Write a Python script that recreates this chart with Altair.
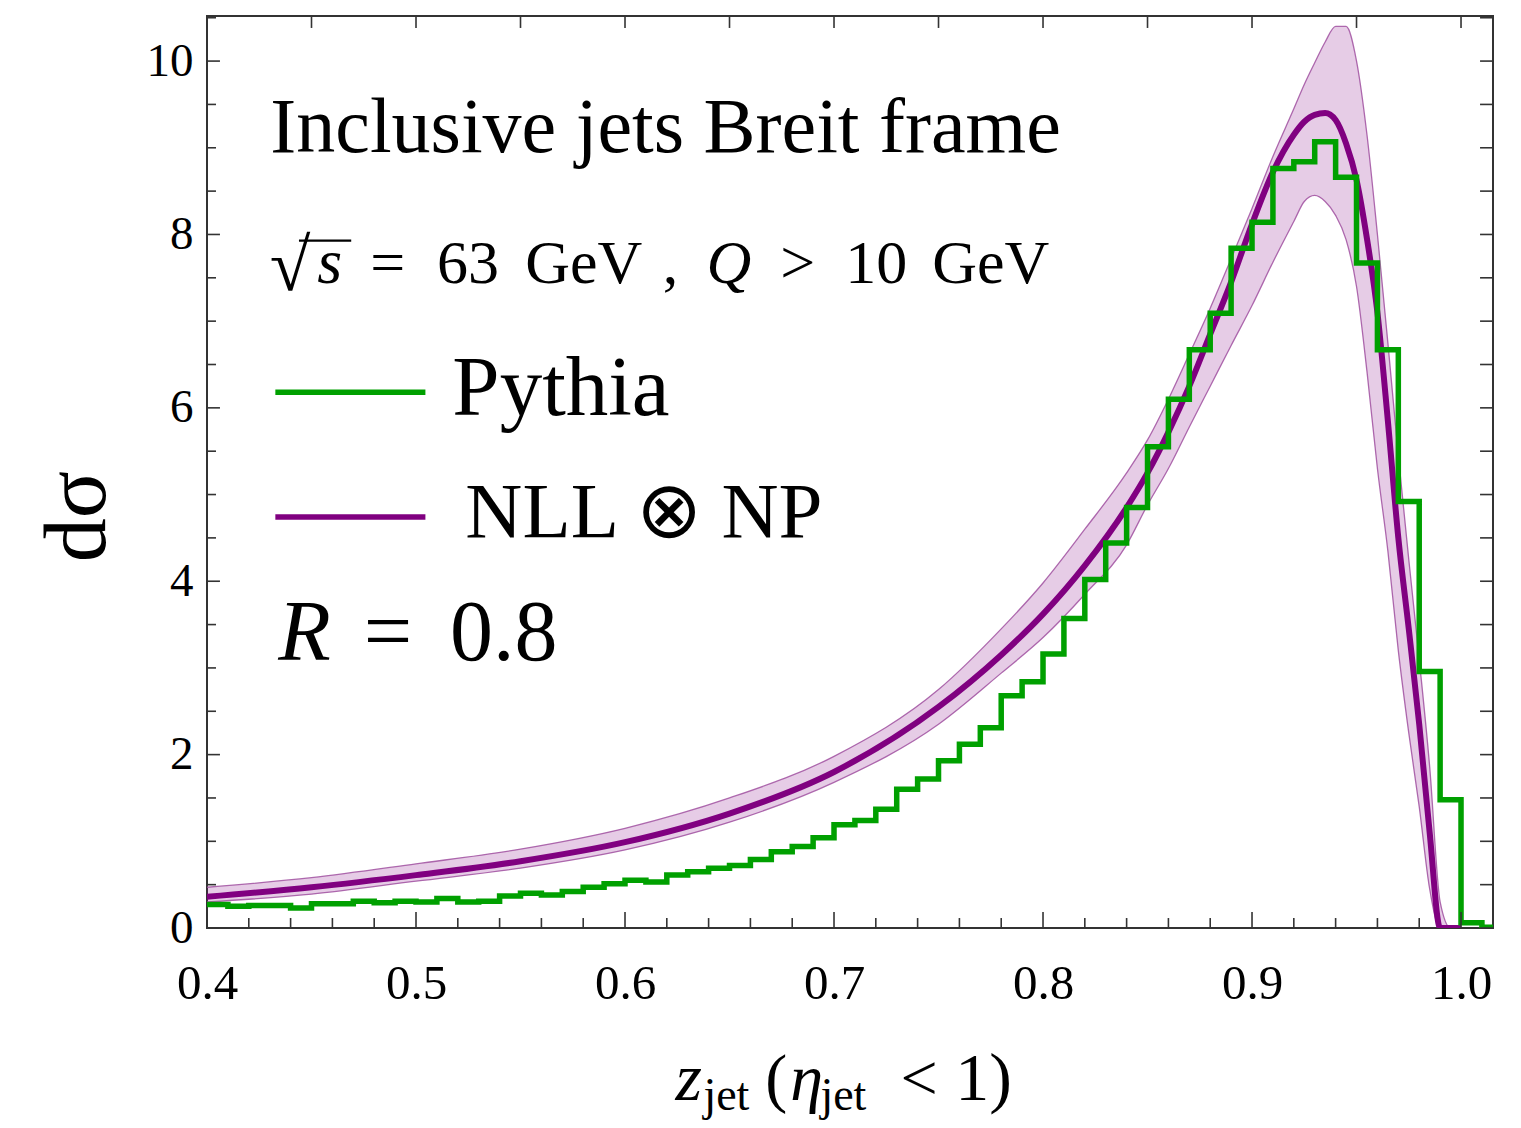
import altair as alt
import pandas as pd

# ---------------- data ----------------
# Pythia histogram: bin left edges (width 0.01) and heights
pythia_edges = [round(0.40 + 0.01 * i, 2) for i in range(63)]  # 0.40 ... 1.02
pythia_vals = [0.27, 0.25, 0.26, 0.26, 0.23, 0.28, 0.28, 0.31, 0.29, 0.31,
               0.30, 0.34, 0.30, 0.31, 0.37, 0.40, 0.38, 0.42, 0.47, 0.51,
               0.55, 0.53, 0.61, 0.65, 0.69, 0.72, 0.79, 0.88, 0.94, 1.04,
               1.19, 1.24, 1.37, 1.60, 1.72, 1.93, 2.12, 2.31, 2.68, 2.84,
               3.16, 3.57, 4.02, 4.44, 4.85, 5.55, 6.10, 6.67, 7.09, 7.84,
               8.14, 8.76, 8.84, 9.07, 8.66, 7.67, 6.67, 4.92, 2.96, 1.48,
               0.06, 0.01]

# NLL (x) NP: central curve and uncertainty band
theory_x = [0.40, 0.45, 0.50, 0.55, 0.60, 0.65, 0.70, 0.75, 0.78, 0.80,
            0.82, 0.84, 0.85, 0.86, 0.87, 0.88, 0.89, 0.90, 0.91, 0.92,
            0.925, 0.93, 0.935, 0.94, 0.945, 0.95, 0.955, 0.96, 0.965, 0.97,
            0.975, 0.98, 0.985, 0.99, 0.995, 1.00]
nll_center = [0.36, 0.47, 0.61, 0.77, 0.99, 1.32, 1.80, 2.55, 3.15, 3.62,
              4.18, 4.85, 5.25, 5.72, 6.25, 6.85, 7.45, 8.12, 8.72, 9.15,
              9.30, 9.38, 9.40, 9.32, 9.05, 8.63, 7.95, 7.10, 5.85, 4.50,
              3.45, 2.35, 1.10, 0.0, 0.0, 0.0]
nll_lower = [0.30, 0.39, 0.54, 0.69, 0.90, 1.22, 1.68, 2.35, 2.94, 3.35,
             3.85, 4.42, 4.88, 5.30, 5.78, 6.25, 6.72, 7.18, 7.68, 8.15,
             8.38, 8.45, 8.38, 8.22, 7.94, 7.40, 6.42, 5.30, 4.35, 3.20,
             2.25, 1.40, 0.45, 0.0, 0.0, 0.0]
nll_upper = [0.47, 0.58, 0.74, 0.91, 1.15, 1.50, 1.98, 2.75, 3.45, 3.98,
             4.60, 5.25, 5.63, 6.10, 6.62, 7.15, 7.72, 8.30, 8.90, 9.45,
             9.73, 9.98, 10.22, 10.40, 10.40, 10.00, 9.15, 8.00, 6.75, 5.45,
             4.25, 3.10, 1.86, 0.30, 0.0, 0.0]

x_labels = [0.4, 0.5, 0.6, 0.7, 0.8, 0.9, 1.0]
y_labels = [0, 2, 4, 6, 8, 10]
x_minor = [round(0.40 + 0.02 * i, 2) for i in range(31)]
x_top = [round(0.40 + 0.05 * i, 2) for i in range(13)]
y_minor = [0.5 * i for i in range(22)]

X_MIN, X_MAX = 0.4, 1.0153
Y_MIN, Y_MAX = 0.0, 10.52

FONT = "Liberation Serif"
PURPLE = "#800080"
GREEN = "#00a000"

xs = alt.Scale(domain=[X_MIN, X_MAX], nice=False, zero=False)
ys = alt.Scale(domain=[Y_MIN, Y_MAX], nice=False, zero=False)

# ---------------- tables ----------------
step_df = pd.DataFrame({
    "x": pythia_edges[:-1] + [pythia_edges[-1]],
    "y": pythia_vals + [pythia_vals[-1]],
})
th_df = pd.DataFrame({"x": theory_x, "c": nll_center, "lo": nll_lower, "hi": nll_upper})

vt = []  # vertical tick rules (x ticks)
for v in x_minor:
    major = any(abs(v - m) < 1e-9 for m in x_labels)
    vt.append({"x": v, "y0": Y_MIN, "y1": Y_MIN + (0.185 if major else 0.115)})
for v in x_top:
    vt.append({"x": v, "y0": Y_MAX - 0.138, "y1": Y_MAX})
vt_df = pd.DataFrame(vt)

ht = []  # horizontal tick rules (y ticks)
for v in y_minor:
    if v > Y_MAX:
        continue
    major = any(abs(v - m) < 1e-9 for m in y_labels)
    ht.append({"y": v, "x0": X_MIN, "x1": X_MIN + (0.0062 if major else 0.0043)})
    ht.append({"y": v, "x0": X_MAX - 0.0062, "x1": X_MAX})
ht_df = pd.DataFrame(ht)

# legend samples and the bar of the square root (annotation strokes)
stroke_df = pd.DataFrame({
    "x0": [0.4327, 0.4327, 0.4440], "x1": [0.5045, 0.5045, 0.4690],
    "y": [6.18, 4.74, 7.93], "col": [GREEN, PURPLE, "black"], "w": [5.5, 5.5, 2.2],
})

upright_df = pd.DataFrame([
    {"t": "Inclusive jets Breit frame", "x": 0.4303, "y": 8.95, "s": 78},
    {"t": "√", "x": 0.4300, "y": 7.36, "s": 74},
    {"t": "=", "x": 0.4781, "y": 7.44, "s": 62},
    {"t": "63", "x": 0.5101, "y": 7.44, "s": 62},
    {"t": "GeV", "x": 0.5523, "y": 7.44, "s": 62},
    {"t": ",", "x": 0.6180, "y": 7.44, "s": 62},
    {"t": ">", "x": 0.6743, "y": 7.44, "s": 62},
    {"t": "10", "x": 0.7054, "y": 7.44, "s": 62},
    {"t": "GeV", "x": 0.7470, "y": 7.44, "s": 62},
    {"t": "Pythia", "x": 0.5174, "y": 5.92, "s": 85},
    {"t": "NLL ⊗ NP", "x": 0.5236, "y": 4.51, "s": 79},
    {"t": "=", "x": 0.4750, "y": 3.09, "s": 86},
    {"t": "0.8", "x": 0.5163, "y": 3.09, "s": 86},
    {"t": "jet", "x": 0.6375, "y": -2.10, "s": 46},
    {"t": "(", "x": 0.6671, "y": -1.98, "s": 66},
    {"t": "jet", "x": 0.6935, "y": -2.10, "s": 46},
    {"t": "<", "x": 0.7318, "y": -1.98, "s": 66},
    {"t": "1)", "x": 0.7580, "y": -1.98, "s": 68},
])
italic_df = pd.DataFrame([
    {"t": "s", "x": 0.4528, "y": 7.44, "s": 64},
    {"t": "Q", "x": 0.6390, "y": 7.44, "s": 62},
    {"t": "R", "x": 0.4341, "y": 3.09, "s": 86},
    {"t": "z", "x": 0.6241, "y": -1.98, "s": 68},
    {"t": "η", "x": 0.6791, "y": -1.98, "s": 66},
])

# ---------------- layers ----------------
x_axis = alt.Axis(values=x_labels, format=".1f", labelFont=FONT, labelFontSize=49,
                  labelColor="black", labelPadding=31, ticks=False, domain=False,
                  grid=False, title=None, labelFlush=False)
y_axis = alt.Axis(values=y_labels, format="d", labelFont=FONT, labelFontSize=47,
                  labelColor="black", labelPadding=14, ticks=False, domain=False,
                  grid=False, title="dσ", titleFont=FONT, titleFontSize=88,
                  titleFontWeight="normal", titleColor="black", titlePadding=24,
                  titleY=500, labelFlush=False)


def X(field):
    return alt.X(field, type="quantitative", scale=xs, axis=x_axis)


def Y(field):
    return alt.Y(field, type="quantitative", scale=ys, axis=y_axis)


band = alt.Chart(th_df).mark_area(color=PURPLE, opacity=0.2, interpolate="monotone",
                                  clip=True).encode(x=X("x"), y=Y("lo"), y2="hi")
band_lo = alt.Chart(th_df).mark_line(color="#a050a0", strokeWidth=1.3, opacity=0.85,
                                     interpolate="monotone", clip=True).encode(
    x=X("x"), y=Y("lo"))
band_hi = alt.Chart(th_df).mark_line(color="#a050a0", strokeWidth=1.3, opacity=0.85,
                                     interpolate="monotone", clip=True).encode(
    x=X("x"), y=Y("hi"))
center = alt.Chart(th_df).mark_line(color=PURPLE, strokeWidth=6,
                                    interpolate="monotone", clip=True).encode(
    x=X("x"), y=Y("c"))
pythia = alt.Chart(step_df).mark_line(color=GREEN, strokeWidth=5.5,
                                      interpolate="step-after", clip=True,
                                      strokeJoin="miter").encode(x=X("x"), y=Y("y"))

vticks = alt.Chart(vt_df).mark_rule(color="#333", strokeWidth=1.6).encode(
    x=X("x"), y=Y("y0"), y2="y1")
hticks = alt.Chart(ht_df).mark_rule(color="#333", strokeWidth=1.6).encode(
    y=Y("y"), x=X("x0"), x2="x1")

strokes = alt.Chart(stroke_df).mark_rule().encode(
    x=X("x0"), x2="x1", y=Y("y"), color=alt.Color("col:N", scale=None),
    strokeWidth=alt.StrokeWidth("w:Q", scale=None, legend=None))

txt_up = alt.Chart(upright_df).mark_text(font=FONT, align="left", baseline="alphabetic",
                                         color="black").encode(
    x=X("x"), y=Y("y"), text="t:N", size=alt.Size("s:Q", scale=None, legend=None))
txt_it = alt.Chart(italic_df).mark_text(font=FONT, align="left", baseline="alphabetic",
                                        fontStyle="italic", color="black").encode(
    x=X("x"), y=Y("y"), text="t:N", size=alt.Size("s:Q", scale=None, legend=None))

chart = alt.layer(band, band_lo, band_hi, center, pythia, vticks, hticks, strokes,
                  txt_up, txt_it).properties(
    width=1286, height=912,
    autosize=alt.AutoSizeParams(type="none"),
    padding={"left": 199, "top": 8, "right": 20, "bottom": 200},
    background="white",
).configure_view(stroke="#333", strokeWidth=2)

chart.save("out.html", embed_options={"renderer": "svg", "actions": False})
